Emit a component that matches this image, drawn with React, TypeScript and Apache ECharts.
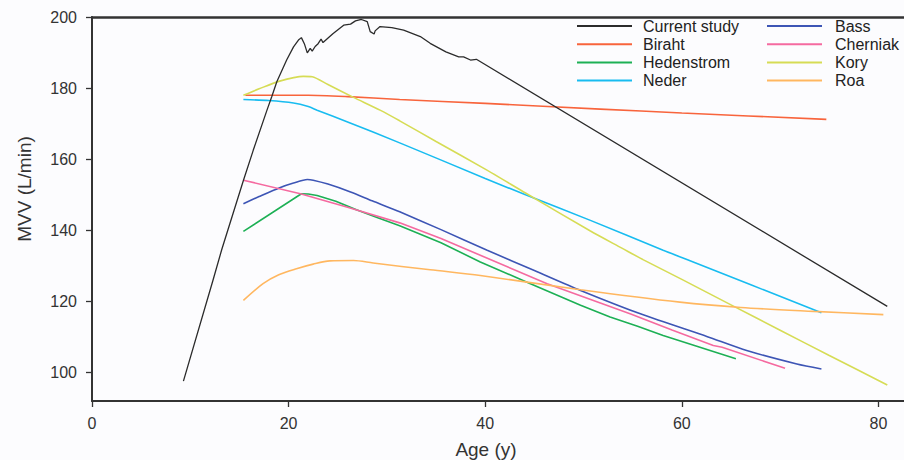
import React, { useEffect, useRef } from "react";
import * as echarts from "echarts";

const xTicks = [0, 20, 40, 60, 80];
const yTicks = [100, 120, 140, 160, 180, 200];

const seriesNames = ["Current study", "Biraht", "Hedenstrom", "Neder", "Bass", "Cherniak", "Kory", "Roa"];
const seriesColors = ["#2b2b2b", "#f8643c", "#1db055", "#18bcf0", "#3d55b5", "#f56aa0", "#d6dc55", "#ffb760"];
const seriesSmooth = [0, 0.25, 0, 0.25, 0.25, 0, 0.25, 0.3];

const currentAge = [9.3, 12.3, 13.2, 15.4, 16.4, 17.8, 18.3, 18.8, 19.8, 20.5, 21.0, 21.3, 21.6, 21.9, 22.2, 22.4, 22.7, 23.0, 23.3, 23.5, 24.5, 25.6, 26.3, 26.8, 27.4, 28.0, 28.3, 28.7, 28.8, 29.3, 30.5, 31.7, 33.4, 34.4, 36.0, 37.3, 37.8, 38.5, 39.1, 80.9];
const currentMvv = [97.6, 125.9, 134.6, 154.0, 162.5, 173.8, 177.7, 181.8, 187.9, 191.6, 193.5, 194.2, 192.5, 189.9, 191.2, 190.4, 191.7, 192.5, 193.8, 192.8, 195.3, 197.7, 198.0, 198.9, 199.3, 198.7, 195.9, 195.2, 196.1, 197.3, 197.0, 196.3, 194.5, 192.6, 190.2, 188.8, 188.8, 187.9, 188.1, 118.6];

const birahtAge = [15.6, 22, 26, 31.3, 40, 51.7, 60, 74.7];
const birahtMvv = [178.0, 178.0, 177.6, 176.8, 175.7, 174.1, 173.0, 171.2];

const hedenstromAge = [15.4, 21.3, 22.0, 22.9, 24.8, 26.9, 29.0, 31.3, 35.5, 39.5, 44.6, 49.7, 52.7, 55.5, 58.1, 65.5];
const hedenstromMvv = [139.7, 150.3, 150.2, 149.8, 148.2, 145.8, 143.6, 141.3, 136.5, 131.1, 125.0, 118.9, 115.6, 113.0, 110.4, 103.9];

const nederAge = [15.4, 18, 20.5, 22, 22.9, 26, 31.3, 40, 44.1, 50.7, 58.1, 60.9, 74.2];
const nederMvv = [176.8, 176.5, 175.8, 174.8, 173.8, 170.5, 164.6, 154.6, 150.0, 142.8, 134.4, 131.4, 116.8];

const bassAge = [15.4, 17, 19.1, 20.5, 21.9, 22.5, 24, 26.3, 28.5, 31.3, 35.5, 40.2, 45, 49.7, 56, 62.6, 66.6, 71.7, 74.2];
const bassMvv = [147.5, 149.5, 152.0, 153.3, 154.3, 154.1, 153.0, 150.8, 148.3, 145.2, 140.2, 134.4, 128.7, 123.1, 116.3, 110.1, 106.2, 102.4, 101.0];

const cherniakAge = [15.4, 21.2, 26, 31.3, 35.5, 39.5, 46.3, 54.8, 59, 63.2, 64.1, 70.5];
const cherniakMvv = [154.1, 150.3, 146.5, 142.1, 137.7, 133.0, 125.0, 116.5, 112.0, 107.6, 107.1, 101.2];

const koryAge = [15.4, 17, 19, 21.5, 22.4, 24, 26.6, 29.3, 31.3, 35, 40, 44.1, 50.7, 53.9, 56.1, 60, 65.1, 70, 75, 80.9];
const koryMvv = [178.0, 179.8, 181.9, 183.3, 183.2, 181.0, 177.4, 173.8, 170.8, 165.0, 157.2, 150.5, 139.8, 135.0, 131.7, 126.2, 118.9, 111.9, 104.8, 96.5];

const roaAge = [15.4, 17.4, 19, 20.8, 22.5, 24.2, 26.6, 28.6, 34.4, 39.5, 49.7, 59.8, 66, 73.4, 80.5];
const roaMvv = [120.3, 125.0, 127.5, 129.2, 130.5, 131.4, 131.5, 130.8, 128.9, 127.3, 123.3, 119.8, 118.3, 117.2, 116.3];

const ages = [currentAge, birahtAge, hedenstromAge, nederAge, bassAge, cherniakAge, koryAge, roaAge];
const mvvs = [currentMvv, birahtMvv, hedenstromMvv, nederMvv, bassMvv, cherniakMvv, koryMvv, roaMvv];

const FONT = "'Liberation Sans', Arial, Helvetica, sans-serif";
const AXIS_COLOR = "#333";

export default function App() {
  const ref = useRef<HTMLDivElement>(null);
  useEffect(() => {
    document.body.style.margin = "0";
    const chart = echarts.init(ref.current!, null, { renderer: "svg" });
    const series = seriesNames.map((name, i) => ({
      name,
      type: "line",
      data: ages[i].map((a, j) => [a, mvvs[i][j]]),
      showSymbol: false,
      symbol: "none",
      smooth: seriesSmooth[i] === 0 ? false : seriesSmooth[i],
      lineStyle: { color: seriesColors[i], width: i === 0 ? 1.3 : 1.6 },
      itemStyle: { color: seriesColors[i] },
      z: i === 0 ? 3 : 2,
    }));
    const legendBase = {
      orient: "vertical",
      icon: "rect",
      itemWidth: 55,
      itemHeight: 2,
      itemGap: 2.2,
      top: 18,
      padding: 0,
      textStyle: { fontSize: 16, lineHeight: 16, color: "#222", fontFamily: FONT },
    };
    chart.setOption({
      animation: false,
      backgroundColor: "#fcfcfe",
      textStyle: { fontFamily: FONT },
      grid: { left: 92, right: 0, top: 17, bottom: 59 },
      legend: [
        { ...legendBase, left: 577, data: seriesNames.slice(0, 4), textStyle: { ...legendBase.textStyle, padding: [0, 0, 0, 6] } },
        { ...legendBase, left: 767, data: seriesNames.slice(4), textStyle: { ...legendBase.textStyle, padding: [0, 0, 0, 8] } },
      ],
      xAxis: [
        {
          type: "value",
          min: 0,
          max: 82.6,
          position: "bottom",
          axisLine: { show: true, lineStyle: { color: AXIS_COLOR, width: 2 } },
          axisTick: { show: true, length: 6, customValues: xTicks, lineStyle: { color: AXIS_COLOR, width: 1.3 } },
          axisLabel: { customValues: xTicks, margin: 14, fontSize: 16, color: AXIS_COLOR, fontFamily: FONT },
          splitLine: { show: false },
        },
        {
          type: "value",
          min: 0,
          max: 82.6,
          position: "top",
          axisLine: { show: true, lineStyle: { color: AXIS_COLOR, width: 2.5 } },
          axisTick: { show: false },
          axisLabel: { show: false },
          splitLine: { show: false },
        },
      ],
      yAxis: {
        type: "value",
        min: 92,
        max: 200,
        axisLine: { show: true, lineStyle: { color: AXIS_COLOR, width: 2 } },
        axisTick: { show: true, length: 6, customValues: yTicks, lineStyle: { color: AXIS_COLOR, width: 1.3 } },
        axisLabel: { customValues: yTicks, margin: 15, fontSize: 16, color: AXIS_COLOR, fontFamily: FONT },
        splitLine: { show: false },
      },
      graphic: [
        {
          type: "text",
          x: 24,
          y: 189,
          rotation: Math.PI / 2,
          style: { text: "MVV (L/min)", fontSize: 19, fill: AXIS_COLOR, fontFamily: FONT, align: "center", verticalAlign: "middle" },
        },
        {
          type: "text",
          x: 486,
          y: 449,
          style: { text: "Age (y)", fontSize: 19, fill: AXIS_COLOR, fontFamily: FONT, align: "center", verticalAlign: "middle" },
        },
      ],
      series,
    });
    return () => chart.dispose();
  }, []);
  return <div ref={ref} style={{ width: 904, height: 460 }} />;
}
